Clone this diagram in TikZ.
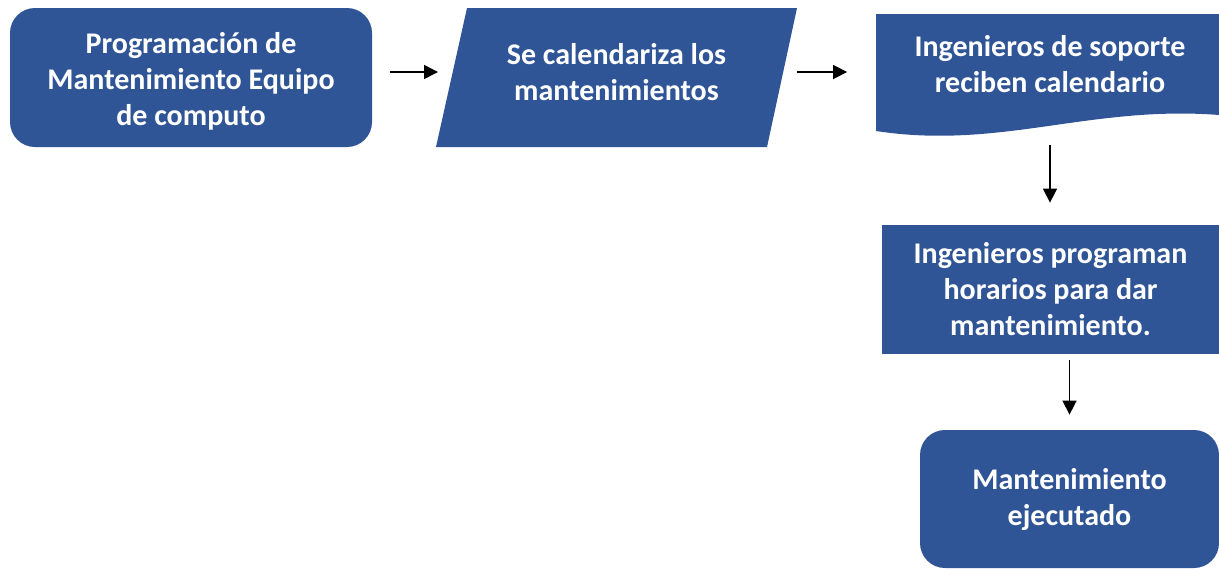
\documentclass[tikz,border=0pt]{standalone}
\usepackage{fontspec}
\setmainfont{Carlito}
\usetikzlibrary{arrows.meta}
\definecolor{boxblue}{RGB}{47,85,151}
\begin{document}
\begin{tikzpicture}[x=0.5pt, y=-0.5pt,
  every node/.style={font=\fontsize{15}{18}\selectfont\bfseries, text=white, align=center, inner sep=0pt},
  flowbox/.style={fill=boxblue},
  flowarrow/.style={-{Triangle[length=7pt,width=7pt]}, line width=0.75pt, black}]
\useasboundingbox (0,0) rectangle (1219,568);
% Top row
\node[flowbox, rounded corners=12.5pt, minimum width=181pt, minimum height=69.5pt] (start) at (191,77.5) {\\[-4pt]Programación de\\Mantenimiento Equipo\\de computo};
% Parallelogram
\fill[boxblue] (467,8) -- (797,8) -- (767,147) -- (436,147) -- cycle;
\node (cal) at (616.5,72) {Se calendariza los\\mantenimientos};
\coordinate (calw) at (452,72);
\coordinate (cale) at (782,72);
% Document shape
\fill[boxblue] (876,14) -- (1219,14) -- (1219,115) .. controls (1090,105) and (1000,150) .. (876,131) -- cycle;
\node[minimum width=171.5pt, minimum height=62pt] (doc) at (1050,64) {Ingenieros de soporte\\reciben calendario};
% Right column
\node[flowbox, minimum width=168.5pt, minimum height=64.5pt] (prog) at (1050.5,289.5) {Ingenieros programan\\horarios para dar\\mantenimiento.};
\node[flowbox, rounded corners=12.5pt, minimum width=149.5pt, minimum height=69pt] (done) at (1069.5,499) {Mantenimiento\\ejecutado};
% Connectors
\draw[flowarrow, shorten <=9pt, shorten >=7pt] (start.east |- calw) -- (calw);
\draw[flowarrow, shorten <=7.5pt, shorten >=15.5pt] (cale) -- (cale -| doc.west);
\draw[flowarrow, shorten <=9.5pt, shorten >=11pt] (doc.south) -- (doc.south |- prog.north);
\draw[flowarrow, shorten <=3pt, shorten >=7.5pt] (prog.south -| done.north) -- (done.north);
\end{tikzpicture}
\end{document}
